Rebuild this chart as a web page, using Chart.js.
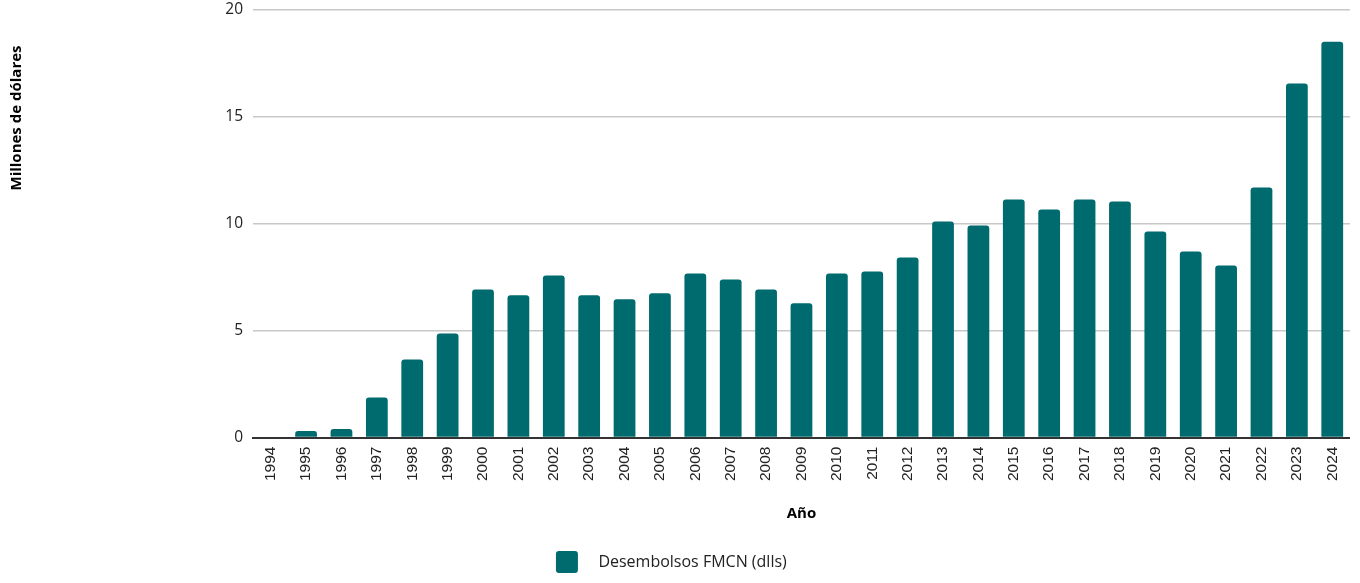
<!DOCTYPE html>
<html lang="es">
<head>
    <meta charset="UTF-8">
    <title>Desembolsos FMCN</title>
    <script src="https://cdn.jsdelivr.net/npm/chart.js"></script>
    <style>
        html, body { margin: 0; padding: 0; background: #ffffff; }
        #wrap { width: 1360px; height: 583px; }
    </style>
</head>
<body>
<div id="wrap"><canvas id="chart"></canvas></div>
<script>
    // datos
    const years = ['1994','1995','1996','1997','1998','1999','2000','2001','2002','2003','2004',
        '2005','2006','2007','2008','2009','2010','2011','2012','2013','2014','2015','2016',
        '2017','2018','2019','2020','2021','2022','2023','2024'];
    const desembolsos = [0, 0.3, 0.4, 1.87, 3.65, 4.87, 6.92, 6.66, 7.58, 6.66, 6.47,
        6.75, 7.67, 7.39, 6.92, 6.28, 7.67, 7.77, 8.42, 10.1, 9.92, 11.13, 10.67,
        11.13, 11.04, 9.64, 8.70, 8.05, 11.70, 16.56, 18.51];
    const yTicks = [0, 5, 10, 15, 20];

    const barColor = '#006b6e';
    const yTitle = 'Millones de dólares';

    // titulo del eje y, separado del eje como en el original
    const yTitlePlugin = {
        id: 'yTitle',
        afterDraw(chart) {
            const ctx = chart.ctx;
            ctx.save();
            ctx.translate(17, chart.chartArea.top + 108);
            ctx.rotate(-Math.PI / 2);
            ctx.font = 'bold 15px "Open Sans"';
            ctx.fillStyle = '#000000';
            ctx.textAlign = 'center';
            ctx.textBaseline = 'middle';
            ctx.fillText(yTitle, 0, 0);
            ctx.restore();
        }
    };

    new Chart(document.getElementById('chart'), {
        type: 'bar',
        data: {
            labels: years,
            datasets: [{
                label: 'Desembolsos FMCN (dlls)',
                data: desembolsos,
                backgroundColor: barColor,
                borderRadius: { topLeft: 3, topRight: 3 },
                borderSkipped: 'bottom',
                categoryPercentage: 1,
                barPercentage: 0.615
            }]
        },
        options: {
            responsive: true,
            maintainAspectRatio: false,
            animation: false,
            layout: { padding: { top: 10, right: 9, bottom: 0, left: 0 } },
            plugins: {
                tooltip: { enabled: false },
                legend: {
                    position: 'bottom',
                    labels: {
                        boxWidth: 22,
                        boxHeight: 22,
                        useBorderRadius: true,
                        borderRadius: 3,
                        color: '#222222',
                        font: { family: '"Open Sans"', size: 16 },
                        padding: 8,
                        generateLabels(chart) {
                            const items = Chart.defaults.plugins.legend.labels.generateLabels(chart);
                            items.forEach(it => { it.text = '   ' + it.text + '  '; it.lineWidth = 0; });
                            return items;
                        }
                    }
                }
            },
            scales: {
                x: {
                    grid: { display: false, drawTicks: false },
                    border: { display: true, color: '#333333', width: 2 },
                    ticks: {
                        minRotation: 90,
                        maxRotation: 90,
                        autoSkip: false,
                        padding: 9,
                        color: '#222222',
                        font: { family: '"Liberation Sans"', size: 15.5 }
                    },
                    title: {
                        display: true,
                        text: 'Año',
                        color: '#000000',
                        font: { family: '"Open Sans"', size: 15, weight: 'bold' },
                        padding: { top: 15, bottom: 20 }
                    }
                },
                y: {
                    min: 0,
                    max: 20,
                    afterBuildTicks(scale) {
                        scale.ticks = yTicks.map(v => ({ value: v }));
                    },
                    afterFit(scale) {
                        scale.width = 253;
                        scale.paddingTop = 0;
                    },
                    grid: { color: '#c8c8c8', lineWidth: 1.5, drawTicks: false },
                    border: { display: false },
                    ticks: {
                        padding: 10,
                        color: '#222222',
                        font: { family: '"Open Sans"', size: 15.5 }
                    }
                }
            }
        },
        plugins: [yTitlePlugin]
    });
</script>
</body>
</html>
